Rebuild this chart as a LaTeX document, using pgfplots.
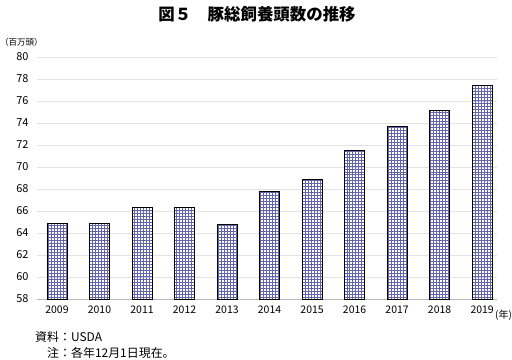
\documentclass[border=0pt]{standalone}
\usepackage{pgfplots}
\pgfplotsset{compat=1.18}
\usepackage{fontspec}
\setmainfont{Noto Sans CJK JP}
\usetikzlibrary{patterns}
\definecolor{patcol}{RGB}{100,100,172}
\pgfplotstableread{
year value
2009 64.9
2010 64.9
2011 66.3
2012 66.3
2013 64.8
2014 67.8
2015 68.9
2016 71.5
2017 73.7
2018 75.1
2019 77.4
}\datatable
\begin{document}
\begin{tikzpicture}
\path[use as bounding box] (0,0) rectangle (512bp,-360bp);
\begin{axis}[
  at={(37bp,-299bp)}, anchor=south west,
  scale only axis, width=460bp, height=242bp,
  xmin=2008.53, xmax=2019.35,
  ymin=58, ymax=80,
  ytick={58,60,...,80},
  xtick=data,
  /pgf/number format/1000 sep={},
  /pgf/number format/assume math mode=true,
  ymajorgrids, grid style={gray!22, line width=0.6pt},
  axis lines*=left,
  y axis line style={draw=none},
  x axis line style={gray!55, line width=0.6pt},
  tick style={draw=none},
  yticklabel style={font=\fontsize{11}{12}\selectfont, xshift=-5bp},
  xticklabel style={font=\fontsize{10.5}{12}\selectfont, yshift=-3bp},
  clip=false,
]
\addplot[ybar, bar width=20bp, bar shift=0pt, draw=black, line width=0.9pt,
  pattern=grid, pattern color=patcol] table[x=year, y=value] {\datatable};
\end{axis}
\node[font=\fontsize{16.5}{18}\selectfont\bfseries] at (257bp,-14bp) {図５　豚総飼養頭数の推移};
\node[anchor=west, inner sep=0pt, font=\fontsize{8.5}{10}\selectfont] at (0bp,-42bp) {（百万頭）};
\node[anchor=west, inner sep=0pt, font=\fontsize{10}{11}\selectfont] at (495bp,-315bp) {(年)};
\node[anchor=west, inner sep=0pt, font=\fontsize{12}{13}\selectfont] at (35bp,-337bp) {資料：USDA};
\node[anchor=west, inner sep=0pt, font=\fontsize{12}{13}\selectfont] at (47bp,-353bp) {注：各年12月1日現在。};
\end{tikzpicture}
\end{document}
